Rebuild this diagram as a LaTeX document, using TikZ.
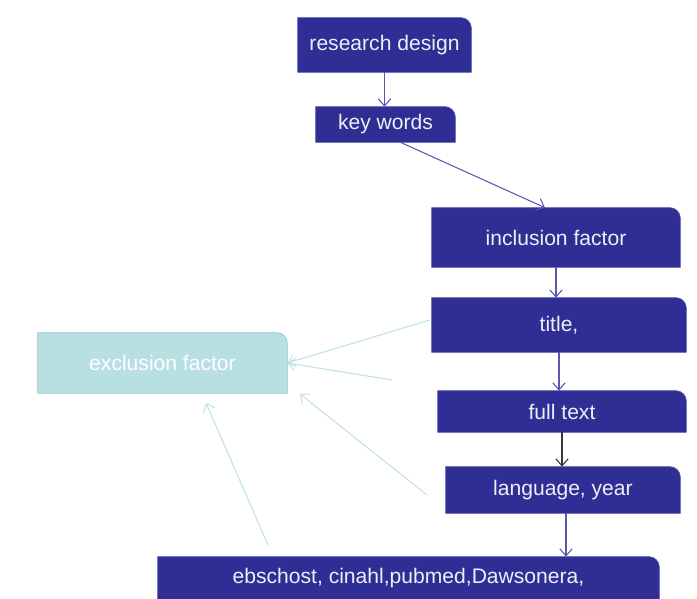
\documentclass[tikz,border=0pt]{standalone}
\usepackage{fontspec}
\setmainfont{Liberation Sans}
\usetikzlibrary{backgrounds,arrows.meta}
\definecolor{boxblue}{RGB}{46,46,148}
\definecolor{boxedge}{RGB}{85,85,170}
\definecolor{arrowblue}{RGB}{88,88,172}
\definecolor{arrowdark}{RGB}{55,55,60}
\definecolor{exclfill}{RGB}{184,223,226}
\definecolor{excledge}{RGB}{150,195,200}
\definecolor{excllink}{RGB}{192,226,229}
\tikzset{
  stage/.style={inner sep=0pt, text={rgb,255:red,238;green,238;blue,246}, font=\fontsize{12}{14}\selectfont},
  flow/.style={draw=arrowblue, line width=0.6pt, -{Straight Barb[length=4pt,width=7pt]}},
  excl/.style={draw=excllink, line width=0.6pt, -{Straight Barb[length=4pt,width=7pt]}},
}

\begin{document}
\begin{tikzpicture}
      \useasboundingbox (0,0) rectangle (13.94,-11.98);
      \node[stage, minimum width=3.46cm, minimum height=1.08cm] (design) at (7.69,-0.90) {research design};
      \node[stage, minimum width=2.78cm, minimum height=0.70cm] (keywords) at (7.71,-2.49) {key words};
      \node[stage, minimum width=4.96cm, minimum height=1.18cm] (inclusion) at (11.12,-4.75) {inclusion factor};
      \node[stage, minimum width=5.08cm, minimum height=1.08cm] (title) at (11.18,-6.50) {title,};
      \node[stage, minimum width=4.96cm, minimum height=0.82cm] (fulltext) at (11.24,-8.23) {full text};
      \node[stage, minimum width=4.68cm, minimum height=0.92cm] (language) at (11.26,-9.80) {language, year};
      \node[stage, minimum width=10.02cm, minimum height=0.84cm] (databases) at (8.17,-11.56) {ebschost, cinahl,pubmed,Dawsonera,};
      \node[stage, text=white, minimum width=4.98cm, minimum height=1.20cm] (exclusion) at (3.25,-7.26) {exclusion factor};
      % box shapes, top right corner rounded
      \begin{scope}[on background layer]
        \foreach \n in {design,keywords,inclusion,title,fulltext,language,databases}
          \filldraw[fill=boxblue, draw=boxedge, line width=0.4pt] (\n.south west) -- (\n.north west)
            -- ([xshift=-6pt]\n.north east) arc[start angle=90, end angle=0, radius=6pt] -- (\n.south east) -- cycle;
        \filldraw[fill=exclfill, draw=excledge, line width=0.4pt] (exclusion.south west) -- (exclusion.north west)
          -- ([xshift=-6pt]exclusion.north east) arc[start angle=90, end angle=0, radius=6pt] -- (exclusion.south east) -- cycle;
      \end{scope}
      \coordinate (ex1) at (7.84,-7.60);
      \coordinate (ex2) at (8.54,-9.90);
      \coordinate (ex2tip) at (6.00,-7.88);
      \coordinate (ex3) at (5.36,-10.90);
      \coordinate (ex3tip) at (4.12,-8.06);
      \draw[flow] (design.south) -- (design.south |- keywords.north);
      \draw[flow] ([xshift=0.3cm]keywords.south) -- ([xshift=-0.22cm]inclusion.north);
      \draw[flow] (inclusion.south) -- (inclusion.south |- title.north);
      \draw[flow] (title.south) -- (title.south |- fulltext.north);
      \draw[flow, draw=arrowdark] (fulltext.south) -- (fulltext.south |- language.north);
      \draw[flow] ([xshift=0.06cm]language.south) -- ([xshift=0.06cm]language.south |- databases.north);
      \draw[excl] ([xshift=-0.04cm, yshift=0.1cm]title.west) -- (exclusion.east);
      \draw[excl] (ex1) -- (exclusion.east);
      \draw[excl] (ex2) -- (ex2tip);
      \draw[excl] (ex3) -- (ex3tip);
\end{tikzpicture}
\end{document}
